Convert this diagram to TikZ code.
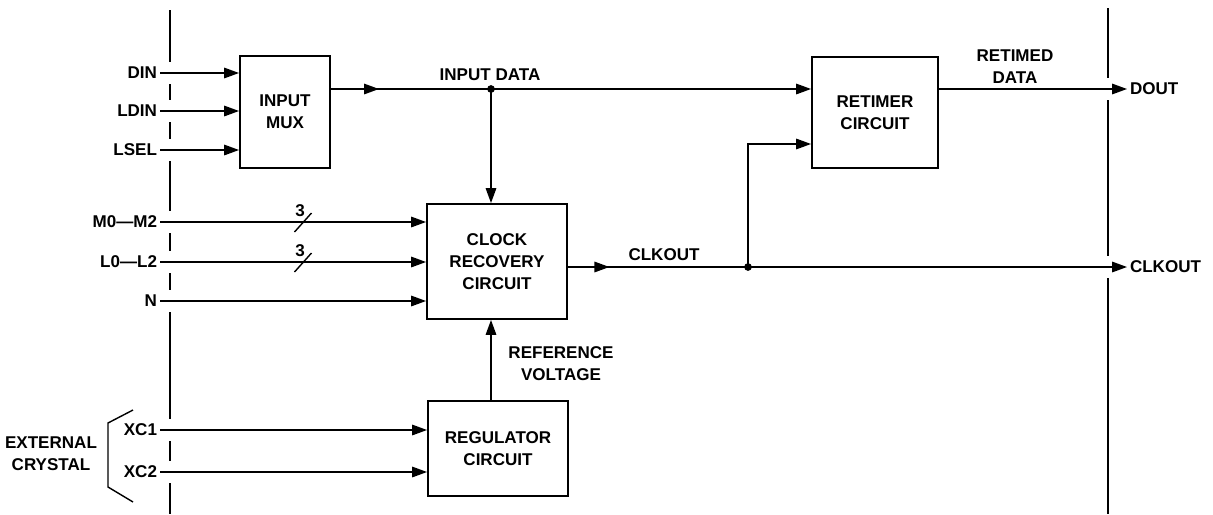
\documentclass[tikz,border=0pt]{standalone}
\usepackage{fontspec}
\setmainfont{Liberation Sans}
\usepackage{tikz}
\usetikzlibrary{arrows.meta, positioning, calc, decorations.markings}

\begin{document}
\begin{tikzpicture}[
   x=0.02cm, y=-0.02cm,
   font=\fontsize{9.7}{12.5}\selectfont\bfseries,
   >={Triangle[length=8.5pt,width=6pt]},
   blk/.style={draw, line width=1.1pt, align=center, inner sep=2pt},
   sig/.style={inner sep=1.5pt},
   lbl/.style={align=center, inner sep=1pt},
   wire/.style={line width=0.8pt},
   chipline/.style={line width=1.1pt},
   midarrow/.style={postaction={decorate}, decoration={markings,
               mark=at position #1 with {\arrow{>}}}},
]
\useasboundingbox (0,0) rectangle (1213,514);

% ---- chip boundary ----
\foreach \a/\b in {10/62, 84/100, 122/139, 161/211, 233/251, 273/290, 312/419, 441/461, 483/514}
   \draw[chipline] (170,\a) -- (170,\b);
\foreach \a/\b in {8/78, 100/256, 278/514}
   \draw[chipline] (1108,\a) -- (1108,\b);

% ---- blocks ----
\node[blk, minimum width=1.8cm, minimum height=2.24cm] (mux) at (285,112) {INPUT\\MUX};
\node[blk, minimum width=2.8cm, minimum height=2.3cm] (clk) at (497,261.5) {CLOCK\\RECOVERY\\CIRCUIT};
\node[blk, minimum width=2.8cm, minimum height=1.9cm] (reg) at (498,448.5) {REGULATOR\\CIRCUIT};
\node[blk, minimum width=2.52cm, minimum height=2.22cm] (ret) at (875,112.5) {RETIMER\\CIRCUIT};

% ---- input pins ----
\node[sig, anchor=east] (din)  at (160,73)  {DIN};
\node[sig, anchor=east] (ldin) at (160,111) {LDIN};
\node[sig, anchor=east] (lsel) at (160,150) {LSEL};
\node[sig, anchor=east] (mm)   at (160,222) {M0\textemdash M2};
\node[sig, anchor=east] (ll)   at (160,262) {L0\textemdash L2};
\node[sig, anchor=east] (nn)   at (160,301) {N};
\node[sig, anchor=east] (xc1)  at (160,430) {XC1};
\node[sig, anchor=east] (xc2)  at (160,472) {XC2};

\node[lbl] (xtal) at (51,454) {EXTERNAL\\CRYSTAL};
\draw[wire] (133,410) -- (108,423) -- (108,487) -- (133,502);

% ---- output pins ----
\node[sig, anchor=west] (dout) at (1127,89)  {DOUT};
\node[sig, anchor=west] (cko)  at (1127,267) {CLKOUT};

\coordinate (jn) at (491,89);
\coordinate (jc) at (748,267);

% ---- inputs ----
\foreach \n in {din, ldin, lsel}
   \draw[wire, ->] (\n) -- (\n -| mux.west);
\foreach \n in {mm, ll, nn}
   \draw[wire, ->] (\n) -- (\n -| clk.west);
\foreach \n in {xc1, xc2}
   \draw[wire, ->] (\n) -- (\n -| reg.west);

% bus widths
\foreach \n in {mm, ll} {
   \draw[wire] ($(\n -| 303,0)+(-8.5,10)$) -- ($(\n -| 303,0)+(8.5,-9)$);
   \node[lbl] at ($(\n -| 300,0)+(0,-11)$) {3};
}

% ---- internal ----
\draw[wire, midarrow=0.3] (mux.east |- jn) -- (jn);
\draw[wire, ->] (jn) -- (ret.west |- jn);
\draw[wire, ->] (jn) -- (jn |- clk.north);
\draw[wire, midarrow=0.23] (clk.east |- jc) -- (jc);
\draw[wire, ->] (jc) -- (cko.west);
\draw[wire, ->] (jc) |- ([yshift=-0.63cm]ret.west);
\draw[wire, ->] (ret.east |- dout) -- (dout.west);
\draw[wire, ->] (jn |- reg.north) -- (jn |- clk.south);
\fill (jn) circle (2.2pt);
\fill (jc) circle (2.2pt);

% ---- labels ----
\node[lbl] (idlbl)  at (490,75)  {INPUT DATA};
\node[lbl] (cklbl)  at (664,255) {CLKOUT};
\node[lbl] (rdlbl)  at (1015,67) {RETIMED\\DATA};
\node[lbl] (rvlbl)  at (561,364) {REFERENCE\\VOLTAGE};
\end{tikzpicture}
\end{document}
